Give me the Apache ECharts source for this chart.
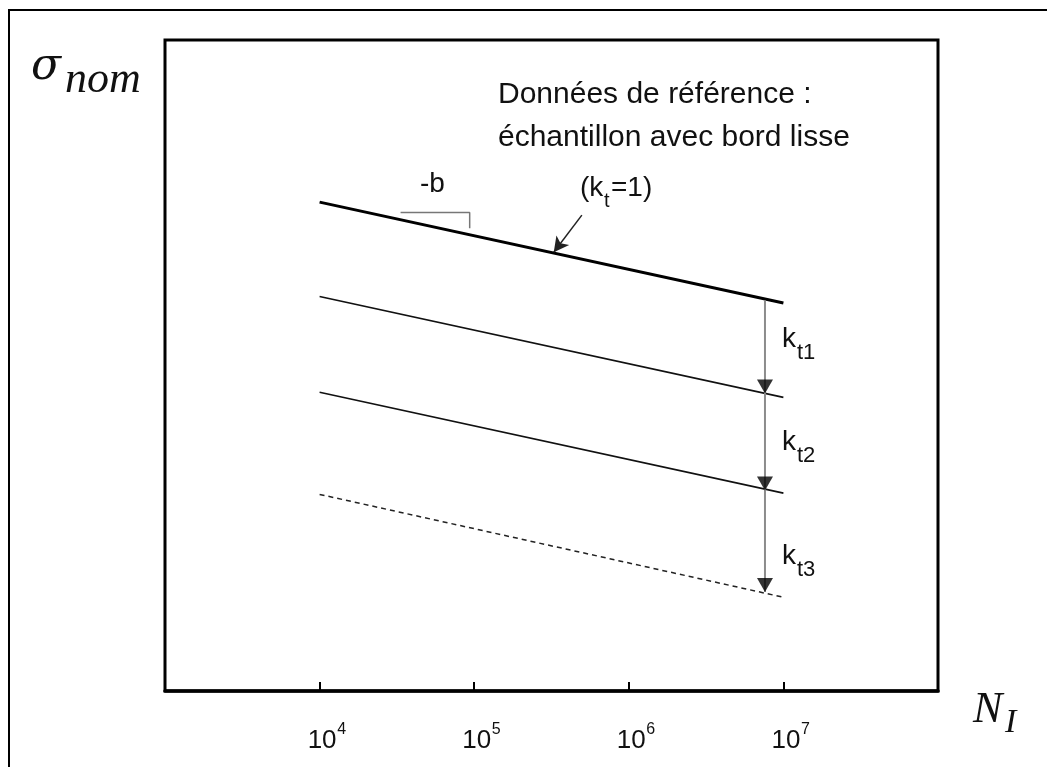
<!DOCTYPE html>
<html>
<head>
<meta charset="utf-8">
<script src="https://cdn.jsdelivr.net/npm/echarts@6/dist/echarts.min.js"></script>
<style>
html,body{margin:0;padding:0;background:#fff;}
#chart{width:1047px;height:767px;}
</style>
</head>
<body>
<div id="chart"></div>
<script>
// ---- data (x: cycles N_I, y: arbitrary log-stress units 0..100) ----
const xRange = [1e3, 1e8];
const yRange = [0, 100];
const tickBase = '10';
const tickExponents = [4, 5, 6, 7];
const refLine = [[1e4, 75.1], [1e7, 59.6]];      // k_t = 1 (smooth edge)
const kt1Line = [[1e4, 60.6], [1e7, 45.1]];
const kt2Line = [[1e4, 45.9], [1e7, 30.4]];
const kt3Line = [[1e4, 30.2], [1e7, 14.4]];
const arrowShaft = [[7.6e6, 60.0], [7.6e6, 15.2]];
const arrowTips = [[7.6e6, 45.7], [7.6e6, 30.8], [7.6e6, 15.2]];
const slopeMark = [[3.34e4, 73.5], [9.35e4, 73.5], [9.35e4, 71.1]];
const pointerArrow = [[4.97e5, 73.1], [3.27e5, 67.4]];

const SANS = '"Liberation Sans", Arial, sans-serif';
const SERIF = '"Liberation Serif", "Times New Roman", serif';

function txt(x, baseline, str, fs, opts) {
  opts = opts || {};
  const serif = !!opts.serif;
  const mid = baseline - (serif ? 0.3375 : 0.3465) * fs;
  return {
    type: 'text', x: x, y: mid, silent: true, z: 100,
    style: {
      text: str, fill: '#111', fontSize: fs,
      fontFamily: opts.family || (serif ? SERIF : SANS),
      fontStyle: opts.italic ? 'italic' : 'normal',
      align: 'left', verticalAlign: 'middle'
    }
  };
}
function expOf(v) {
  const e = Math.round(Math.log10(v));
  return tickExponents.indexOf(e) < 0 ? null : e;
}

const chart = echarts.init(document.getElementById('chart'), null, {renderer: 'canvas'});
const option = {
  animation: false,
  backgroundColor: '#fff',
  grid: {
    left: 165, right: 109, top: 40, bottom: 76,
    show: true, borderColor: '#000', borderWidth: 3, backgroundColor: 'transparent'
  },
  xAxis: [
    {
      type: 'log', logBase: 10, min: xRange[0], max: xRange[1], position: 'bottom',
      axisLine: {show: true, lineStyle: {color: '#000', width: 3.5}},
      axisTick: {show: true, inside: true, length: 9, lineStyle: {color: '#000', width: 2}},
      splitLine: {show: false},
      minorTick: {show: false},
      axisLabel: {
        margin: 35, fontSize: 26, fontFamily: SANS, color: '#111', lineHeight: 30,
        padding: [0, 0, 0, 5],
        formatter: function (v) { return expOf(v) === null ? '' : tickBase; }
      }
    },
    {
      type: 'log', logBase: 10, min: xRange[0], max: xRange[1], position: 'bottom',
      axisLine: {show: false}, axisTick: {show: false}, splitLine: {show: false},
      axisLabel: {
        margin: 31, fontSize: 16, fontFamily: SANS, color: '#111', lineHeight: 16,
        padding: [0, 0, 0, 44],
        formatter: function (v) { const e = expOf(v); return e === null ? '' : String(e); }
      }
    }
  ],
  yAxis: {
    type: 'value', min: yRange[0], max: yRange[1], show: false,
    splitLine: {show: false}
  },
  series: [
    {
      type: 'line', data: refLine, symbol: 'none', silent: true,
      lineStyle: {color: '#000', width: 3},
      markLine: {
        silent: true, symbol: ['none', 'arrow'], symbolSize: [12, 15],
        label: {show: false},
        lineStyle: {color: '#222', width: 1.5, type: 'solid'},
        data: [[{coord: pointerArrow[0]}, {coord: pointerArrow[1]}]]
      }
    },
    {type: 'line', data: kt1Line, symbol: 'none', silent: true, lineStyle: {color: '#111', width: 1.6}},
    {type: 'line', data: kt2Line, symbol: 'none', silent: true, lineStyle: {color: '#111', width: 1.6}},
    {type: 'line', data: kt3Line, symbol: 'none', silent: true, lineStyle: {color: '#222', width: 1.5, type: [5, 4]}},
    {type: 'line', data: slopeMark, symbol: 'none', silent: true, lineStyle: {color: '#777', width: 1.5}},
    {type: 'line', data: arrowShaft, symbol: 'none', silent: true, lineStyle: {color: '#8c8c8c', width: 2}},
    {
      type: 'scatter', data: arrowTips, silent: true, z: 5,
      symbol: 'path://M0,0L14,0L7,13Z', symbolKeepAspect: false,
      symbolSize: [16, 14], symbolOffset: [0, -7],
      itemStyle: {color: '#000'}
    }
  ],
  graphic: [
    {type: 'rect', silent: true, shape: {x: 9, y: 10, width: 1200, height: 900},
     style: {fill: 'none', stroke: '#000', lineWidth: 2}},
    txt(31, 83, 'σ', 44, {italic: true, family: '"DejaVu Serif", serif'}),
    txt(65, 95, 'nom', 44, {serif: true, italic: true}),
    txt(973, 725, 'N', 44, {serif: true, italic: true}),
    txt(1005, 735, 'I', 34, {serif: true, italic: true}),
    txt(498, 105, 'Données de référence :', 30),
    txt(498, 148, 'échantillon avec bord lisse', 30),
    txt(420, 194, '-b', 28),
    txt(580, 198, '(k', 28),
    txt(604, 208, 't', 20),
    txt(611, 198, '=1)', 28),
    txt(782, 349, 'k', 28), txt(797, 361, 't1', 22),
    txt(782, 452, 'k', 28), txt(797, 464, 't2', 22),
    txt(782, 566, 'k', 28), txt(797, 578, 't3', 22)
  ]
};
chart.setOption(option);
</script>
</body>
</html>
